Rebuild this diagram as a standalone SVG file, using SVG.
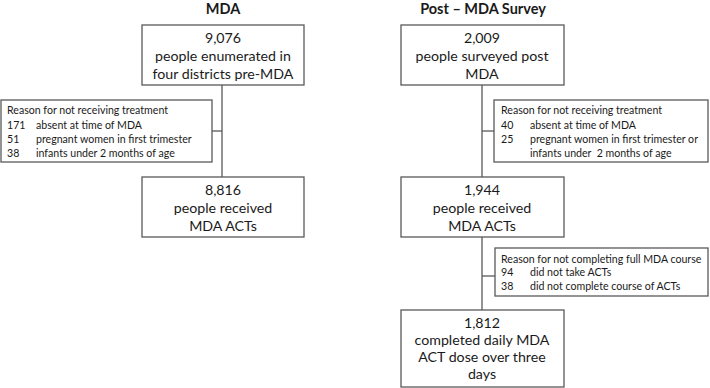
<svg xmlns="http://www.w3.org/2000/svg" width="710" height="388" viewBox="0 0 710 388">
<style>
.box{fill:#fff;stroke:#595959;stroke-width:1.3}
.ln{fill:none;stroke:#595959;stroke-width:1.3}
.t{font-family:Lato,"Open Sans",sans-serif;font-size:14.2px;fill:#1a1a1a;text-anchor:middle}
.r{font-family:Lato,"Open Sans",sans-serif;font-size:10.6px;fill:#1a1a1a}
.h{font-family:Lato,"Open Sans",sans-serif;font-size:14.5px;font-weight:bold;fill:#1a1a1a;text-anchor:middle}
</style>
<rect width="710" height="388" fill="#fff"/>
<text class="h" x="223" y="14">MDA</text>
<text class="h" x="483" y="14">Post – MDA Survey</text>
<g id="connectors">
<line class="ln" x1="222" y1="85" x2="222" y2="177"/>
<line class="ln" x1="212" y1="131" x2="222" y2="131"/>
<line class="ln" x1="482" y1="85" x2="482" y2="177"/>
<line class="ln" x1="482" y1="131" x2="494" y2="131"/>
<line class="ln" x1="482" y1="237" x2="482" y2="310"/>
<line class="ln" x1="482" y1="276" x2="495" y2="276"/>
</g>
<g id="n1">
<rect class="box" x="142" y="25" width="162" height="60"/>
<text class="t" x="223" y="43">9,076</text>
<text class="t" x="223" y="61">people enumerated in</text>
<text class="t" x="223" y="79">four districts pre-MDA</text>
</g>
<g id="r1">
<rect class="box" x="1" y="100" width="211" height="62"/>
<text class="r" x="7" y="114">Reason for not receiving treatment</text>
<text class="r" x="7" y="129">171</text><text class="r" x="36" y="129">absent at time of MDA</text>
<text class="r" x="7" y="143">51</text><text class="r" x="36" y="143">pregnant women in first trimester</text>
<text class="r" x="7" y="157">38</text><text class="r" x="36" y="157">infants under 2 months of age</text>
</g>
<g id="n2">
<rect class="box" x="142" y="177" width="162" height="60"/>
<text class="t" x="223" y="195">8,816</text>
<text class="t" x="223" y="213">people received</text>
<text class="t" x="223" y="231">MDA ACTs</text>
</g>
<g id="n3">
<rect class="box" x="401" y="25" width="163" height="60"/>
<text class="t" x="482" y="43">2,009</text>
<text class="t" x="482" y="61">people surveyed post</text>
<text class="t" x="482" y="79">MDA</text>
</g>
<g id="r2">
<rect class="box" x="494" y="100" width="214" height="62"/>
<text class="r" x="501" y="114">Reason for not receiving treatment</text>
<text class="r" x="501" y="129">40</text><text class="r" x="530" y="129">absent at time of MDA</text>
<text class="r" x="501" y="143">25</text><text class="r" x="530" y="143">pregnant women in first trimester or</text>
<text class="r" x="530" y="157" xml:space="preserve">infants under  2 months of age</text>
</g>
<g id="n4">
<rect class="box" x="401" y="177" width="163" height="60"/>
<text class="t" x="482" y="195">1,944</text>
<text class="t" x="482" y="213">people received</text>
<text class="t" x="482" y="231">MDA ACTs</text>
</g>
<g id="r3">
<rect class="box" x="495" y="248" width="213" height="48"/>
<text class="r" x="501" y="263">Reason for not completing full MDA course</text>
<text class="r" x="501" y="276">94</text><text class="r" x="530" y="276">did not take ACTs</text>
<text class="r" x="501" y="290">38</text><text class="r" x="530" y="290">did not complete course of ACTs</text>
</g>
<g id="n5">
<rect class="box" x="401" y="310" width="163" height="77"/>
<text class="t" x="482" y="328">1,812</text>
<text class="t" x="482" y="345">completed daily MDA</text>
<text class="t" x="482" y="362">ACT dose over three</text>
<text class="t" x="482" y="379">days</text>
</g>
</svg>
